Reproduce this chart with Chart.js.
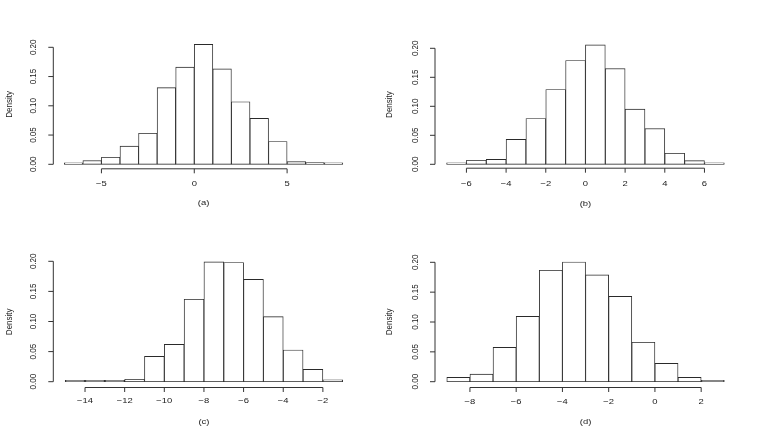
<!DOCTYPE html>
<html><head><meta charset="utf-8">
<script src="https://cdn.jsdelivr.net/npm/chart.js@4"></script>
<style>
html,body{margin:0;padding:0;background:#fff;width:763px;height:436px;overflow:hidden}
canvas{position:absolute;left:0;top:0}
</style></head><body>
<canvas id="c0" width="763" height="436"></canvas>
<canvas id="c1" width="763" height="436"></canvas>
<canvas id="c2" width="763" height="436"></canvas>
<canvas id="c3" width="763" height="436"></canvas>
<script>
// ---- data ----
const panelLabels = ['(a)', '(b)', '(c)', '(d)'];
const yAxisTitle = 'Density';
const yTicks = [0, 0.05, 0.10, 0.15, 0.20];

const breaksA = [-7,-6,-5,-4,-3,-2,-1,0,1,2,3,4,5,6,7,8];
const densityA = [0.001,0.0063,0.012,0.031,0.053,0.131,0.166,0.205,0.163,0.107,0.0786,0.039,0.0046,0.003,0.002];
const xTicksA = [-5,0,5];

const breaksB = [-7,-6,-5,-4,-3,-2,-1,0,1,2,3,4,5,6,7];
const densityB = [0.0023,0.0069,0.0086,0.043,0.079,0.129,0.179,0.206,0.165,0.095,0.0615,0.019,0.0063,0.0023];
const xTicksB = [-6,-4,-2,0,2,4,6];

const breaksC = [-15,-14,-13,-12,-11,-10,-9,-8,-7,-6,-5,-4,-3,-2,-1];
const densityC = [0.001,0,0.0022,0.004,0.042,0.062,0.137,0.199,0.198,0.170,0.108,0.0526,0.0205,0.0033];
const xTicksC = [-14,-12,-10,-8,-6,-4,-2];

const breaksD = [-9,-8,-7,-6,-5,-4,-3,-2,-1,0,1,2,3];
const densityD = [0.0073,0.0128,0.0575,0.1095,0.1866,0.2005,0.179,0.143,0.066,0.0307,0.0073,0.0017];
const xTicksD = [-8,-6,-4,-2,0,2];

// ---- layout (page pixels) ----
const layouts = [
  {left:64.3, right:342.8, top:47.3, bottom:164.3, axisX:53.3, xAxisY:168.8, tickLabY:183.5, titleY:203, yLabX:33.5, densX:9},
  {left:446.6, right:724.3, top:48.3, bottom:164.3, axisX:435, xAxisY:168.2, tickLabY:184, titleY:204, yLabX:415, densX:389},
  {left:65.2, right:342.7, top:261.3, bottom:381.7, axisX:53.3, xAxisY:387.5, tickLabY:401, titleY:421.7, yLabX:33.5, densX:9},
  {left:446.8, right:724.3, top:262.3, bottom:381.7, axisX:435, xAxisY:387.5, tickLabY:401.5, titleY:421.7, yLabX:415, densX:389}
];

const panels = [
  {breaks:breaksA, density:densityA, xTicks:xTicksA},
  {breaks:breaksB, density:densityB, xTicks:xTicksB},
  {breaks:breaksC, density:densityC, xTicks:xTicksC},
  {breaks:breaksD, density:densityD, xTicks:xTicksD}
];

const FONT = '8px "Liberation Sans", Arial, sans-serif';
const HSTRETCH = 1.18;
const INK = '#222';

function fmtTick(v, digits) {
  const s = v.toFixed(digits);
  return s.replace('-', '\u2212');
}
function drawText(ctx, str, x, y, rot) {
  ctx.save();
  ctx.translate(x, y);
  ctx.scale(HSTRETCH, 1);
  if (rot) ctx.rotate(rot);
  ctx.fillText(str, 0, 0);
  ctx.restore();
}

const rAxesPlugin = {
  id: 'rAxes',
  afterDraw(chart, args, opts) {
    const ctx = chart.ctx;
    const L = opts.layout, P = opts.panel;
    const xs = chart.scales.x, ys = chart.scales.y;
    ctx.save();
    ctx.strokeStyle = '#333';
    ctx.lineWidth = 1;
    ctx.fillStyle = INK;
    ctx.font = FONT;
    ctx.textAlign = 'center';
    ctx.textBaseline = 'middle';
    // y axis
    const yTop = ys.getPixelForValue(yTicks[yTicks.length-1]);
    const yBot = ys.getPixelForValue(yTicks[0]);
    ctx.beginPath();
    ctx.moveTo(L.axisX, yTop); ctx.lineTo(L.axisX, yBot);
    yTicks.forEach(t => {
      const py = ys.getPixelForValue(t);
      ctx.moveTo(L.axisX, py); ctx.lineTo(L.axisX - 5, py);
    });
    ctx.stroke();
    yTicks.forEach(t => {
      drawText(ctx, t.toFixed(2), L.yLabX, ys.getPixelForValue(t), -Math.PI/2);
    });
    // x axis
    const xt = P.xTicks;
    const x0 = xs.getPixelForValue(xt[0]);
    const x1 = xs.getPixelForValue(xt[xt.length-1]);
    ctx.beginPath();
    ctx.moveTo(x0, L.xAxisY); ctx.lineTo(x1, L.xAxisY);
    xt.forEach(t => {
      const px = xs.getPixelForValue(t);
      ctx.moveTo(px, L.xAxisY); ctx.lineTo(px, L.xAxisY + 4.5);
    });
    ctx.stroke();
    xt.forEach(t => {
      drawText(ctx, fmtTick(t, 0), xs.getPixelForValue(t), L.tickLabY, 0);
    });
    // titles
    drawText(ctx, opts.label, (xs.left + xs.right) / 2, L.titleY, 0);
    const maxD = Math.max(...P.density);
    const midY = (ys.getPixelForValue(-0.04*maxD) + ys.getPixelForValue(1.04*maxD)) / 2;
    drawText(ctx, yAxisTitle, L.densX, midY, -Math.PI/2);
    ctx.restore();
  }
};

panels.forEach((P, i) => {
  const L = layouts[i];
  const pts = P.density.map((d, k) => ({x: (P.breaks[k] + P.breaks[k+1]) / 2, y: d}));
  new Chart(document.getElementById('c' + i), {
    type: 'bar',
    data: {
      datasets: [{
        data: pts,
        backgroundColor: '#ffffff',
        borderColor: '#2a2a2a',
        borderWidth: 0.9,
        borderSkipped: false,
        minBarLength: 1.4,
        barPercentage: 1,
        categoryPercentage: 1,
        clip: false
      }]
    },
    options: {
      responsive: false,
      animation: false,
      devicePixelRatio: 1,
      layout: {padding: {left: L.left, right: 763 - L.right, top: L.top, bottom: 436 - L.bottom}},
      scales: {
        x: {type: 'linear', offset: false, min: P.breaks[0], max: P.breaks[P.breaks.length-1], display: false},
        y: {type: 'linear', min: 0, max: 0.2, display: false}
      },
      plugins: {
        legend: {display: false},
        tooltip: {enabled: false},
        rAxes: {layout: L, panel: P, label: panelLabels[i]}
      }
    },
    plugins: [rAxesPlugin]
  });
});
</script>
</body></html>
